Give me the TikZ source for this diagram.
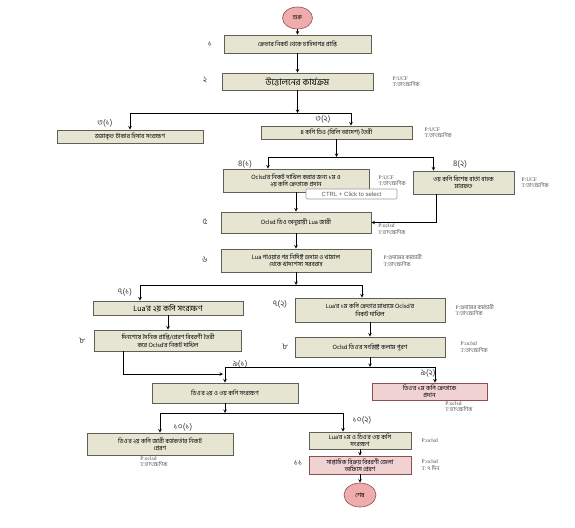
\documentclass[tikz,border=0pt]{standalone}
\usepackage{fontspec}
\setmainfont{Liberation Serif}
\setsansfont{Liberation Sans}
\newfontfamily\bn[Script=Bengali]{Hind Siliguri}
\usetikzlibrary{arrows, positioning, shapes.geometric}

\definecolor{boxfill}{RGB}{229,229,210}
\definecolor{boxline}{RGB}{95,95,85}
\definecolor{pinkfill}{RGB}{241,210,210}
\definecolor{pinkline}{RGB}{140,80,80}
\definecolor{endfill}{RGB}{240,172,172}

\begin{document}
\begin{tikzpicture}[> = stealth, % arrow head style
                x = 1pt, y = -1pt, % pixel grid, top left origin
                line width = 0.6pt, % line style
                node distance = 6pt
            ]

            \tikzstyle{box}=[draw = boxline, fill = boxfill, rectangle,
            align = center, inner sep = 1pt, line width = 0.8pt,
            font = \bn\fontsize{6.2}{7.5}\selectfont]
            \tikzstyle{pinkbox}=[box, draw = pinkline, fill = pinkfill]
            \tikzstyle{term}=[draw = pinkline, fill = endfill, ellipse,
            inner sep = 0pt, font = \bn\fontsize{6}{7}\selectfont]
            \tikzstyle{num}=[inner sep = 0pt, text = black!75,
            font = \bn\fontsize{8.5}{9}\selectfont]
            \tikzstyle{note}=[inner sep = 0pt, align = left, text = black!70,
            font = \fontsize{5.5}{6.5}\selectfont]

            \useasboundingbox (0,0) rectangle (575,527);

            % boxes
            \node[term, minimum width = 30, minimum height = 22] (start) at (297.5,18) {শুরু};
            \node[box, minimum width = 147, minimum height = 18] (b1) at (297.5,44)
            {ক্রেতার নিকট থেকে চাহিদাপত্র প্রাপ্তি};
            \node[box, minimum width = 151, minimum height = 17,
            font = \bn\fontsize{9}{10}\selectfont] (b2) at (297.5,81.5)
            {উত্তোলনের কার্যক্রম};
            \node[box, minimum width = 146, minimum height = 13] (b31) at (130,136.5)
            {জমাকৃত টাকার হিসাব সংরক্ষণ};
            \node[box, minimum width = 151, minimum height = 13] (b32) at (336.5,132.5)
            {৪ কপি ডিও (বিলি আদেশ) তৈরী};
            \node[box, minimum width = 146, minimum height = 23] (b41) at (296,180.5)
            {Oclsd'র নিকট দাখিল করার জন্য ১ম ও\\২য় কপি ক্রেতাকে প্রদান};
            \node[box, minimum width = 101, minimum height = 23] (b42) at (463.5,182.5)
            {৩য় কপি বিশেষ বার্তা বাহক\\মারফত};
            \node[box, minimum width = 150, minimum height = 21] (b5) at (296,222.5)
            {Oclsd ডিও অনুযায়ী Lua জারী};
            \node[box, minimum width = 150, minimum height = 23] (b6) at (296,260.5)
            {Lua পাওয়ার পর নির্দিষ্ট গুদাম ও খামাল\\থেকে খাদ্যশস্য সরবরাহ};
            \node[box, minimum width = 150, minimum height = 14,
            font = \bn\fontsize{8}{9}\selectfont] (b71) at (168,308)
            {Lua'র ২য় কপি সংরক্ষণ};
            \node[box, minimum width = 147, minimum height = 21] (b8l) at (168,340.5)
            {দিনশেষে দৈনিক প্রাপ্তি/প্রেরণ বিবরণী তৈরী\\করে Oclsd'র নিকট দাখিল};
            \node[box, minimum width = 150, minimum height = 24] (b72) at (370,310)
            {Lua'র ১ম কপি ক্রেতার মাধ্যমে Oclsd'র\\নিকট দাখিল};
            \node[box, minimum width = 150, minimum height = 20] (b8r) at (370,347)
            {Oclsd ডিও'র সংশ্লিষ্ট কলাম পূরণ};
            \node[box, minimum width = 146, minimum height = 20] (b91) at (225,393)
            {ডিও'র ২য় ও ৩য় কপি সংরক্ষণ};
            \node[pinkbox, minimum width = 115, minimum height = 17] (b92) at (429.5,391.5)
            {ডিও'র ১ম কপি ক্রেতাকে\\প্রদান};
            \node[box, minimum width = 146, minimum height = 22] (b101) at (160,444)
            {ডিও'র ২য় কপি জারী কর্মকর্তার নিকট\\প্রেরণ};
            \node[box, minimum width = 102, minimum height = 17] (b102) at (360,440.5)
            {Lua'র ১ম ও ডিও'র ৩য় কপি\\সংরক্ষণ};
            \node[pinkbox, minimum width = 102, minimum height = 18] (b11) at (360,465)
            {সাপ্তাহিক বিক্রয় বিবরণী জেলা\\অফিসে প্রেরণ};
            \node[term, minimum width = 32, minimum height = 24] (end) at (360,495) {শেষ};

            % step numbers
            \node[num] (l1) at (210,44) {১};
            \node[num] (l2) at (205,80) {২};
            \node[num] (l31) at (105,123) {৩(১)};
            \node[num] (l32) at (323,119) {৩(২)};
            \node[num] (l41) at (245,164) {৪(১)};
            \node[num] (l42) at (460,164) {৪(২)};
            \node[num] (l5) at (205,222) {৫};
            \node[num] (l6) at (205,260) {৬};
            \node[num] (l71) at (125,292) {৭(১)};
            \node[num] (l8l) at (82,341) {৮};
            \node[num] (l72) at (280,304) {৭(২)};
            \node[num] (l8r) at (285,347) {৮};
            \node[num] (l91) at (240,364) {৯(১)};
            \node[num] (l92) at (428,373) {৯(২)};
            \node[num] (l101) at (183,427) {১০(১)};
            \node[num] (l102) at (362,420) {১০(২)};
            \node[num] (l11) at (298,463) {১১};

            % who and when
            \node[note, right = 19pt of b2] (n2) {P:UCF\\T:{\bn তাৎক্ষণিক}};
            \node[note, right = 12pt of b32] (n32) {P:UCF\\T:{\bn তাৎক্ষণিক}};
            \node[note, right = 9pt of b41] (n41) {P:UCF\\T:{\bn তাৎক্ষণিক}};
            \node[note, right = 7pt of b42] (n42) {P:UCF\\T:{\bn তাৎক্ষণিক}};
            \node[note, anchor = west] (n5) at (378,229) {P:oclsd\\T:{\bn তাৎক্ষণিক}};
            \node[note, right = 12pt of b6] (n6) {P:{\bn গুদামের কর্মচারী}\\T:{\bn তাৎক্ষণিক}};
            \node[note, right = 10pt of b72] (n72) {P:{\bn গুদামের কর্মচারী}\\T:{\bn তাৎক্ষণিক}};
            \node[note, right = 15pt of b8r] (n8r) {P:oclsd\\T:{\bn তাৎক্ষণিক}};
            \node[note, anchor = north west] (n92) at (445,401) {P:oclsd\\T:{\bn তাৎক্ষণিক}};
            \node[note, anchor = north west] (n101) at (140,456) {P:oclsd\\T:{\bn তাৎক্ষণিক}};
            \node[note, right = 10pt of b102] (n102) {P:oclsd};
            \node[note, right = 10pt of b11] (n11) {P:oclsd\\T: {\bn ৭ দিন}};

            % junctions
            \coordinate (j3) at (297.5,113);
            \coordinate (j4) at (336.5,157);
            \coordinate (j7) at (296,285);
            \coordinate (j9) at (223,374);
            \coordinate (j9r) at (370,367);
            \coordinate (j10) at (225,413);

            \path[->] (start) edge (b1); \path[->] (b1) edge (b2);
            \draw[->] (b2) -- (j3);
            \draw[->] (j3) -| (b31);
            \draw[->] (j3) -| ([xshift = 14.5pt]b32.north);
            \draw[->] (b32) -- (j4);
            \draw[->] (j4) -| ([xshift = -28pt]b41.north);
            \draw[->] (j4) -| ([xshift = -30pt]b42.north);
            \path[->] (b41) edge (b5);
            \draw[->] ([xshift = -27.5pt]b42.south) |- (b5.east);
            \path[->] (b5) edge (b6);
            \draw[->] (b6) -- (j7);
            \draw[->] (j7) -| ([xshift = -28pt]b71.north);
            \draw[->] (j7) -| ([xshift = -8pt]b72.north);
            \path[->] (b71) edge (b8l);
            \path[->] (b72) edge (b8r);
            \draw[->] ([xshift = -45pt]b8l.south) |- (j9);
            \draw[->] (b8r) -- (j9r);
            \draw[->] (j9r) -| (b91);
            \draw[->] (j9r) -| ([xshift = 5.5pt]b92.north);
            \draw[->] (b91) -- (j10);
            \draw[->] (j10) -| (b101);
            \draw[->] (j10) -| ([xshift = -17pt]b102.north);
            \path[->] (b102) edge (b11); \path[->] (b11) edge (end);

            % screen tip left in the scan
            \node[draw = black!40, fill = white, rounded corners = 1pt,
            minimum width = 91, minimum height = 10, inner sep = 0pt,
            text = black!65, font = \sffamily\fontsize{6}{7}\selectfont]
            (tip) at (351.5,194) {CTRL + Click to select};
        \end{tikzpicture}
\end{document}
